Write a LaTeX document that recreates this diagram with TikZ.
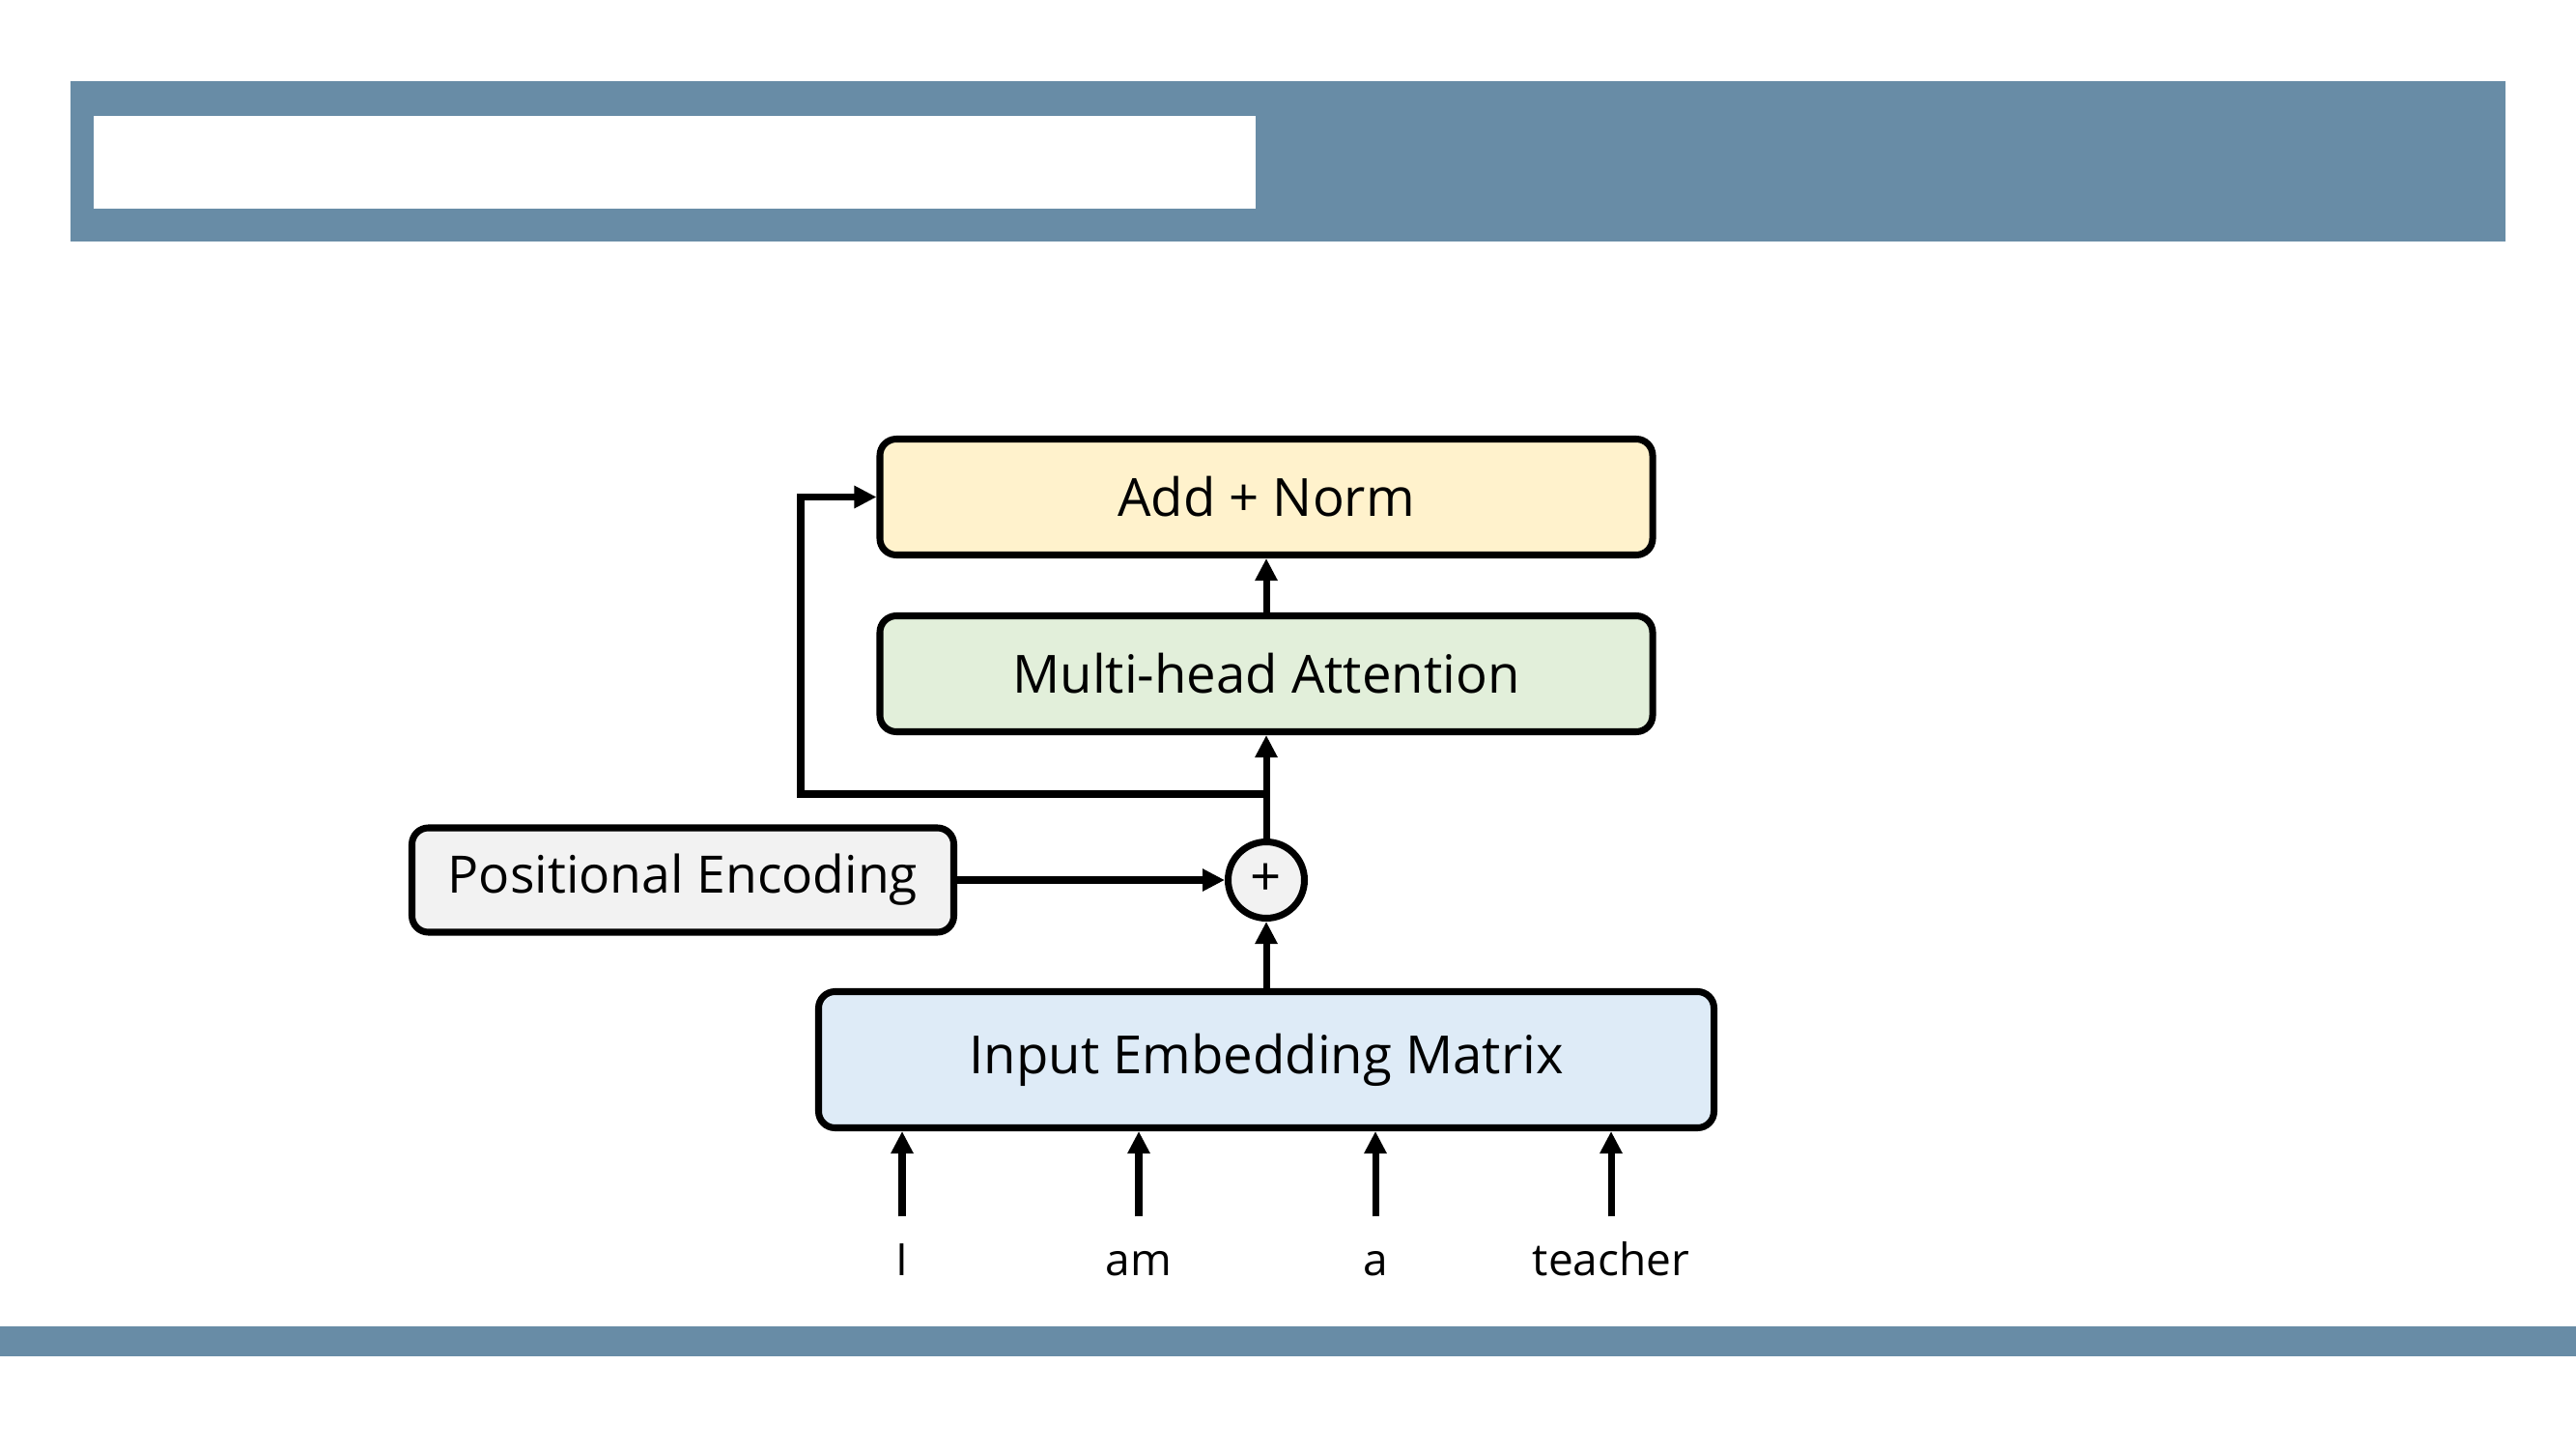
\documentclass[tikz,border=0pt]{standalone}
\usepackage{fontspec}
\setmainfont{Open Sans}
\usetikzlibrary{arrows.meta}

\definecolor{barblue}{RGB}{104,140,166}
\definecolor{normyellow}{RGB}{255,242,204}
\definecolor{attgreen}{RGB}{226,239,218}
\definecolor{pegray}{RGB}{242,242,242}
\definecolor{embblue}{RGB}{222,235,247}

\begin{document}
\begin{tikzpicture}[line width=2pt,>={Triangle[length=0.23cm,width=0.22cm]},
        box/.style={draw,rounded corners=0.17cm,minimum height=1.2cm,font=\fontsize{15.5}{18}\selectfont},
        word/.style={anchor=base,text height=0.35cm,inner ysep=0.22cm,font=\fontsize{13.1}{16}\selectfont}]
        \useasboundingbox (0,0) rectangle (26.67,15);
        % slide frame
        \fill[barblue] (0.73,12.50) rectangle (25.94,14.16);
        \fill[white] (0.97,12.84) rectangle (13.00,13.80);
        \fill[barblue] (0,0.96) rectangle (26.67,1.27);

        \node[box,fill=normyellow,minimum width=8cm] (addnorm) at (13.11,9.855) {Add + Norm};
        \node[box,fill=attgreen,minimum width=8cm] (mha) at (13.11,8.025) {Multi-head Attention};
        \node[draw,circle,fill=pegray,minimum size=0.79cm,inner sep=0pt,font=\fontsize{16}{18}\selectfont] (plus) at (13.11,5.89) {+};
        \node[box,fill=pegray,minimum width=5.61cm,minimum height=1.08cm,font=\fontsize{15.2}{18}\selectfont] (pe) at (7.07,5.89) {Positional Encoding};
        \node[box,fill=embblue,minimum width=9.27cm,minimum height=1.41cm] (iem) at (13.11,4.03) {Input Embedding Matrix};

        \foreach[count=\i] \x/\w in {9.34/I,11.79/am,14.24/a,16.68/teacher}{
            \node[word] (w\i) at (\x,1.80) {\w};
            \draw[->] (w\i.north) -- (w\i.north |- iem.south);
        }

        \draw[->] (iem) -- (plus);
        \draw[->] (pe) -- (plus);
        \draw[->] (plus) -- (mha);
        \draw[->] (mha) -- (addnorm);
        % residual
        \coordinate (split) at (13.11,6.78);
        \coordinate (bend) at (8.29,6.78);
        \draw[->] (split) -- (bend) |- (addnorm.west);
    \end{tikzpicture}
\end{document}
